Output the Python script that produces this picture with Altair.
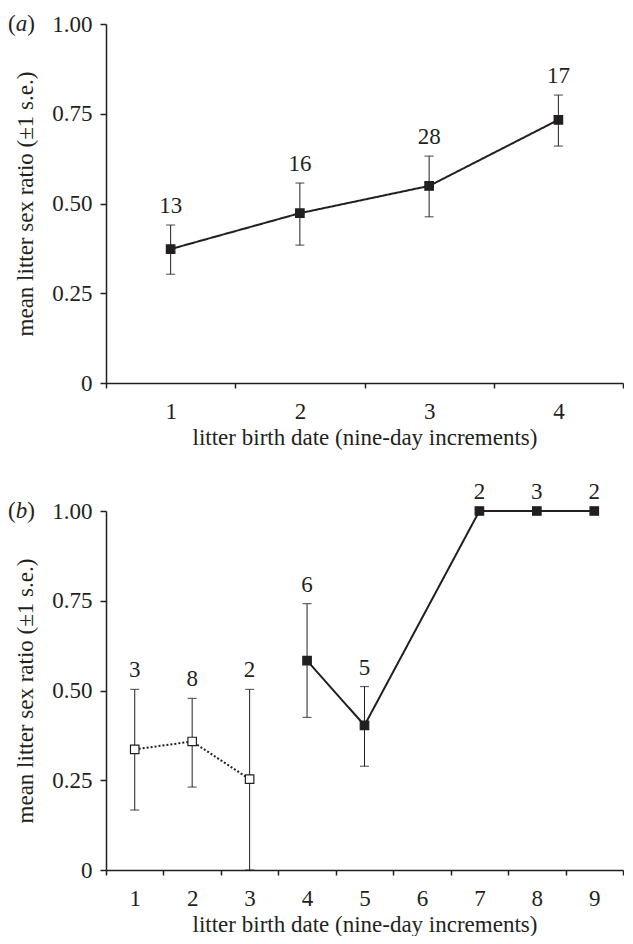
import altair as alt
import pandas as pd

FONT = "Liberation Serif"
INK = "#231f20"

# ---- panel (a) ----
a_date = [1, 2, 3, 4]
a_mean = [0.373, 0.473, 0.549, 0.733]
a_lo = [0.303, 0.384, 0.463, 0.660]
a_hi = [0.440, 0.557, 0.632, 0.802]
a_n = [13, 16, 28, 17]
a_group = ["late", "late", "late", "late"]
a_categories = [1, 2, 3, 4]

# ---- panel (b) ----
b_date = [1, 2, 3, 4, 5, 7, 8, 9]
b_mean = [0.336, 0.358, 0.253, 0.583, 0.403, 1.0, 1.0, 1.0]
b_lo = [0.167, 0.231, 0.0, 0.425, 0.289, None, None, None]
b_hi = [0.503, 0.478, 0.503, 0.742, 0.511, None, None, None]
b_n = [3, 8, 2, 6, 5, 2, 3, 2]
b_group = ["early", "early", "early", "late", "late", "late", "late", "late"]
b_categories = [1, 2, 3, 4, 5, 6, 7, 8, 9]

X_TITLE = "litter birth date (nine-day increments)"
Y_TITLE = "mean litter sex ratio (\u00b11 s.e.)"


def make_df(date, mean, lo, hi, n, group):
    df = pd.DataFrame({"date": date, "mean": mean, "lo": lo, "hi": hi,
                       "n": n, "group": group})
    df["labely"] = [h if h is not None and not pd.isna(h) else m
                    for h, m in zip(df["hi"], df["mean"])]
    return df


def panel(df, cats, width, height, letter):
    base = alt.Chart(df)
    x = alt.X("date:O",
              scale=alt.Scale(type="band", domain=cats, paddingInner=0, paddingOuter=0),
              axis=alt.Axis(title=X_TITLE, labelAngle=0, tickBand="extent",
                            tickSize=5, labelPadding=12, titlePadding=3))
    yscale = alt.Scale(domain=[0, 1], nice=False, zero=True)
    y = alt.Y("mean:Q", scale=yscale,
              axis=alt.Axis(title=Y_TITLE, values=[0, 0.25, 0.5, 0.75, 1.0],
                            labelExpr="datum.value == 0 ? '0' : format(datum.value, '.2f')",
                            tickSize=6, labelPadding=8, titlePadding=14))

    line = base.mark_line(color=INK, strokeWidth=2).encode(
        x=x, y=y,
        detail="group:N",
        strokeDash=alt.StrokeDash("group:N",
                                  scale=alt.Scale(domain=["early", "late"], range=[[2, 2], [1, 0]]),
                                  legend=None),
    )
    err = base.transform_filter("isValid(datum.lo)")
    rule = err.mark_rule(color=INK, strokeWidth=1).encode(
        x=x, y=alt.Y("lo:Q", scale=yscale), y2="hi:Q")
    cap_lo = err.mark_tick(color=INK, size=9, thickness=1.2).encode(
        x=x, y=alt.Y("lo:Q", scale=yscale))
    cap_hi = err.mark_tick(color=INK, size=9, thickness=1.2).encode(
        x=x, y=alt.Y("hi:Q", scale=yscale))
    pts = base.mark_point(shape="square", size=72, strokeWidth=1.2, opacity=1,
                          stroke=INK, filled=True).encode(
        x=x, y=y,
        fill=alt.Fill("group:N",
                      scale=alt.Scale(domain=["early", "late"], range=["white", INK]),
                      legend=None),
    )
    labels = base.mark_text(font=FONT, fontSize=23, color=INK, baseline="alphabetic",
                            dy=-12).encode(
        x=x, y=alt.Y("labely:Q", scale=yscale), text="n:Q")

    lp = alt.Chart(pd.DataFrame({"k": [0]})).mark_text(
        font=FONT, fontSize=23, color=INK, baseline="middle", align="left", text="(").encode(
        x=alt.value(-98), y=alt.value(0))
    ll = alt.Chart(pd.DataFrame({"k": [0]})).mark_text(
        font=FONT, fontSize=23, color=INK, baseline="middle", align="left",
        fontStyle="italic", text=letter).encode(
        x=alt.value(-90.3), y=alt.value(0))
    lr = alt.Chart(pd.DataFrame({"k": [0]})).mark_text(
        font=FONT, fontSize=23, color=INK, baseline="middle", align="left", text=")").encode(
        x=alt.value(-78.8), y=alt.value(0))

    return alt.layer(line, rule, cap_lo, cap_hi, pts, labels, lp, ll, lr).properties(
        width=width, height=height)


dfa = make_df(a_date, a_mean, a_lo, a_hi, a_n, a_group)
dfb = make_df(b_date, b_mean, b_lo, b_hi, b_n, b_group)

chart = alt.vconcat(
    panel(dfa, a_categories, 517, 359, "a"),
    panel(dfb, b_categories, 517, 359, "b"),
    spacing=32,
).properties(
    padding={"left": 0, "top": 5, "right": 0, "bottom": 0}
).configure_view(stroke=None).configure_axis(
    grid=False, domainColor=INK, domainWidth=1.5, tickColor=INK, tickWidth=1.5,
    labelFont=FONT, labelFontSize=23, labelColor=INK,
    titleFont=FONT, titleFontSize=23, titleFontWeight="normal", titleColor=INK,
)

chart.save("out.html", embed_options={"renderer": "svg", "actions": False})
